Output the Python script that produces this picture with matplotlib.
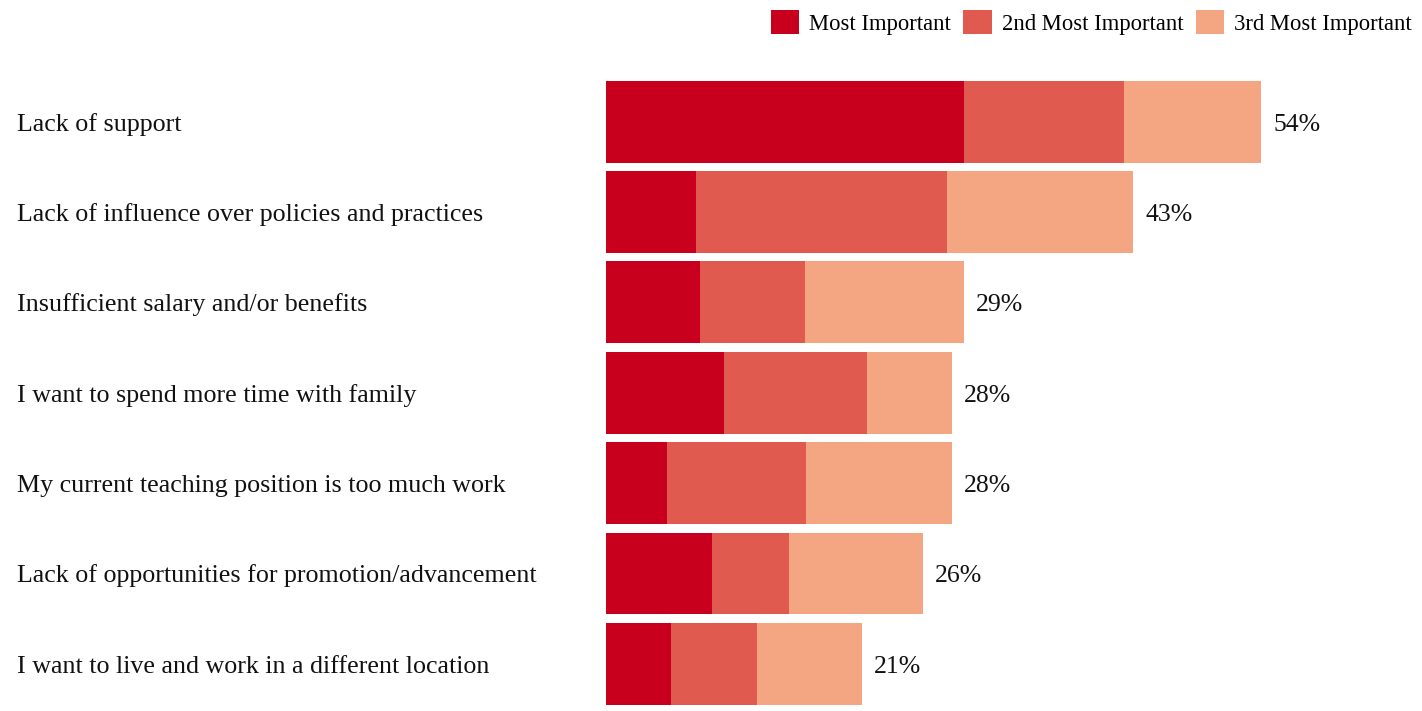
import matplotlib
matplotlib.use("Agg")
import matplotlib.pyplot as plt
from matplotlib.patches import Patch

plt.rcParams['font.family'] = ['Liberation Serif', 'DejaVu Serif']

# reasons for leaving, top to bottom
reasons = [
    "Lack of support",
    "Lack of influence over policies and practices",
    "Insufficient salary and/or benefits",
    "I want to spend more time with family",
    "My current teaching position is too much work",
    "Lack of opportunities for promotion/advancement",
    "I want to live and work in a different location",
]
most_important = [29.4, 7.4, 7.7, 9.7, 5.0, 8.7, 5.3]
second_important = [13.1, 20.6, 8.6, 11.7, 11.4, 6.3, 7.1]
third_important = [11.3, 15.3, 13.1, 7.0, 12.0, 11.0, 8.6]

series_names = ["Most Important", "2nd Most Important", "3rd Most Important"]
colors = ["#C8001E", "#E05A4F", "#F4A582"]

fig = plt.figure(figsize=(14.22, 7.11), dpi=100)
ax = fig.add_axes([606 / 1422, -2.5 / 711, 816 / 1422, 632.5 / 711])

y = list(range(len(reasons)))
left = [0.0] * len(reasons)
for vals, c in zip([most_important, second_important, third_important], colors):
    ax.barh(y, vals, left=left, height=0.905, color=c, linewidth=0)
    left = [l + v for l, v in zip(left, vals)]

# totals to the right of each bar
for i, total in enumerate(left):
    ax.text(total + 1.0, i + 0.1, f"{round(total)}%", va="baseline", ha="left",
            fontsize=18.5, color="#111111")

ax.set_xlim(0, 67)
ax.set_ylim(len(reasons) - 0.45, -0.45)
ax.axis("off")

# category names sit at the far left of the figure
for i, r in enumerate(reasons):
    ax.annotate(r, xy=(17 / 1422, i + 0.1), xycoords=("figure fraction", "data"),
                va="baseline", ha="left", fontsize=18.7, color="#111111")

handles = [Patch(facecolor=c, edgecolor="none") for c in colors]
fig.legend(handles, series_names, loc="upper right", ncol=3, frameon=False,
           bbox_to_anchor=(1.0, 1.0), fontsize=16.3, handlelength=1.24,
           handleheight=1.24, handletextpad=0.44, columnspacing=0.57,
           borderaxespad=0.05)

fig.savefig("out.png", dpi=100)
